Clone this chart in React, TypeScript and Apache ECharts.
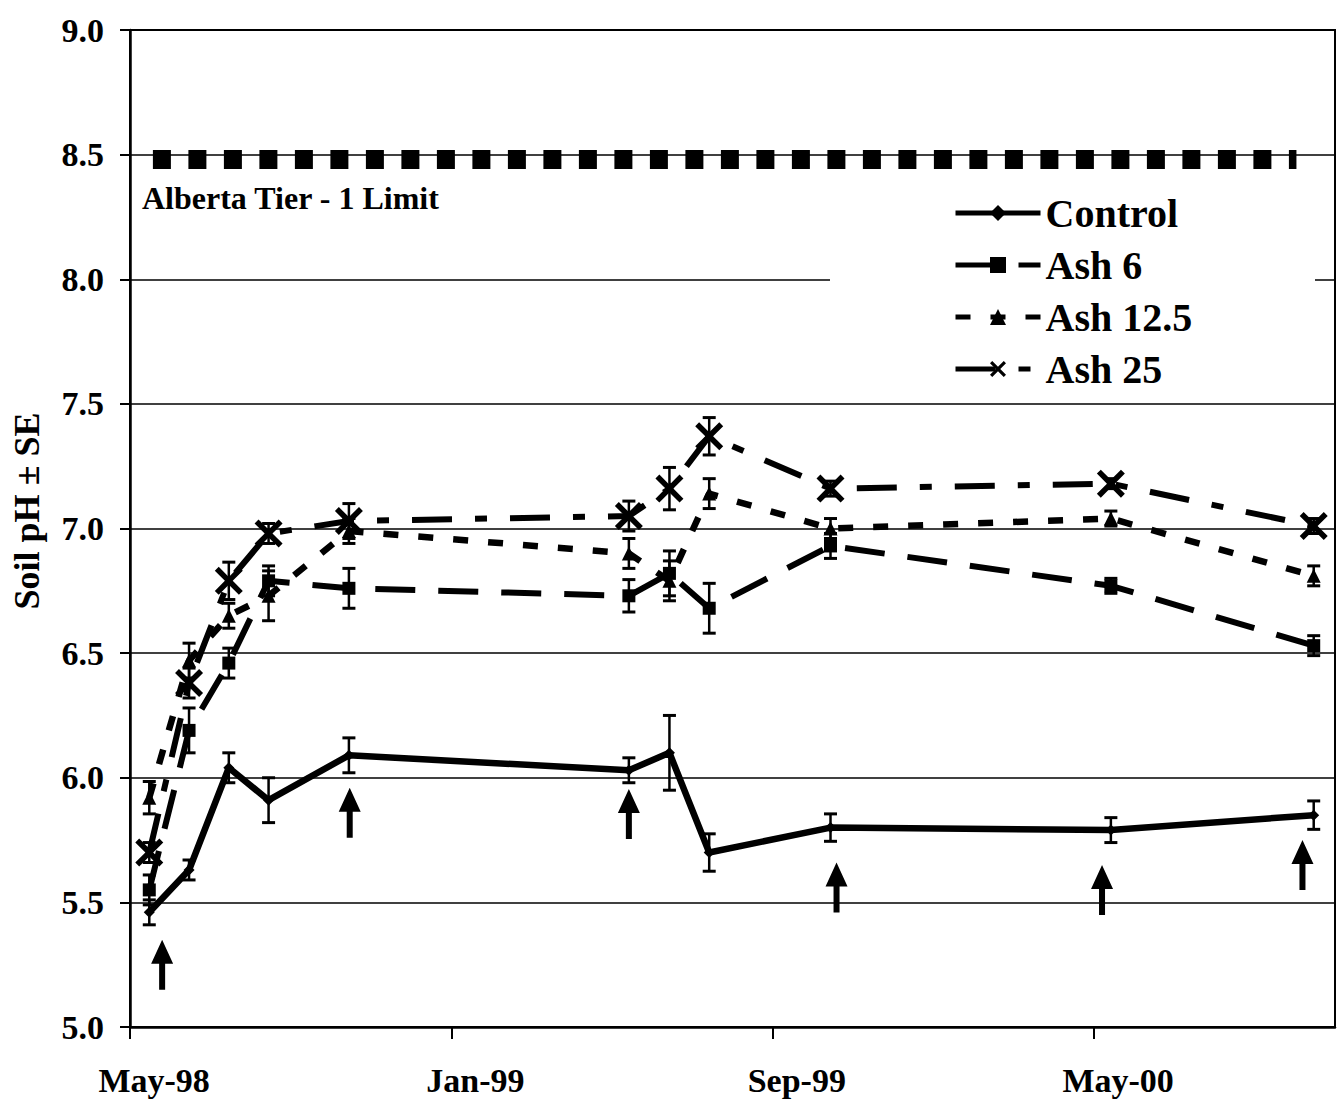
import React, { useEffect, useRef } from 'react';
import * as echarts from 'echarts';

// months elapsed since 1 May 1998
const sampleMonths = [0.48, 1.47, 2.46, 3.45, 5.45, 12.42, 13.43, 14.42, 17.44, 24.42, 29.47];

const controlPH = [5.46, 5.63, 6.04, 5.91, 6.09, 6.03, 6.1, 5.7, 5.8, 5.79, 5.85];
const controlSE = [0.05, 0.04, 0.06, 0.09, 0.07, 0.05, 0.15, 0.075, 0.055, 0.05, 0.057];

const ash6PH = [5.55, 6.19, 6.46, 6.79, 6.76, 6.73, 6.82, 6.68, 6.93, 6.77, 6.53];
const ash6SE = [0.06, 0.09, 0.06, 0.06, 0.08, 0.065, 0.09, 0.1, 0.05, 0.03, 0.04];

const ash125PH = [5.92, 6.47, 6.65, 6.73, 6.99, 6.9, 6.79, 7.14, 7.0, 7.04, 6.81];
const ash125SE = [0.065, 0.07, 0.05, 0.1, 0.05, 0.06, 0.08, 0.06, 0.04, 0.03, 0.04];

const ash25PH = [5.7, 6.38, 6.79, 6.98, 7.03, 7.05, 7.16, 7.37, 7.16, 7.18, 7.01];
const ash25SE = [0.04, 0.06, 0.075, 0.04, 0.07, 0.06, 0.085, 0.075, 0.03, 0.02, 0.03];

// Alberta Tier-1 limit line (start / end month, pH)
const tierMonths = [0.57, 29.04];
const tierPH = 8.48;

// application arrows (month, pH at arrow centre)
const arrowMonths = [0.8, 5.47, 12.42, 17.59, 24.2, 29.19];
const arrowPH = [5.25, 5.86, 5.855, 5.56, 5.55, 5.65];

const tickMonths = [0, 8, 16, 24];
const tickLabels = ['May-98', 'Jan-99', 'Sep-99', 'May-00'];
const labelShift = 0.6;

const seriesNames = ['Control', 'Ash 6', 'Ash 12.5', 'Ash 25'];

const FONT = "'Liberation Serif', 'Times New Roman', serif";

const X_PATH =
  'path://M0,2.8L2.8,0L10,7.2L17.2,0L20,2.8L12.8,10L20,17.2L17.2,20L10,12.8L2.8,20L0,17.2L7.2,10Z';
const ARROW_PATH = 'path://M11,0L22,24L14,24L14,50L8,50L8,24L0,24Z';

function errorSeries(name: string, vals: number[], se: number[]) {
  return {
    type: 'custom',
    name: name + ' SE',
    silent: true,
    z: 3,
    encode: { x: 0, y: [1, 2] },
    data: sampleMonths.map((m, i) => [m, vals[i] - se[i], vals[i] + se[i]]),
    renderItem: (params: any, api: any) => {
      const x = api.value(0);
      const top = api.coord([x, api.value(2)]);
      const bot = api.coord([x, api.value(1)]);
      const h = 6.5;
      return {
        type: 'group',
        children: [
          {
            type: 'line',
            shape: { x1: top[0], y1: top[1], x2: bot[0], y2: bot[1] },
            style: { stroke: '#000', lineWidth: 2.5 },
          },
          {
            type: 'line',
            shape: { x1: top[0] - h, y1: top[1], x2: top[0] + h, y2: top[1] },
            style: { stroke: '#000', lineWidth: 3 },
          },
          {
            type: 'line',
            shape: { x1: bot[0] - h, y1: bot[1], x2: bot[0] + h, y2: bot[1] },
            style: { stroke: '#000', lineWidth: 3 },
          },
        ],
      };
    },
  };
}

function lineSeries(
  name: string,
  vals: number[],
  dash: any,
  symbol: string,
  symbolSize: number,
  width: number
) {
  return {
    type: 'line',
    name,
    data: sampleMonths.map((m, i) => [m, vals[i]]),
    symbol,
    symbolSize,
    showSymbol: true,
    z: 4,
    itemStyle: { color: '#000', borderWidth: 0, opacity: 1 },
    lineStyle: { color: '#000', width, type: dash, cap: 'butt' },
  };
}

export default function App() {
  const ref = useRef<HTMLDivElement>(null);

  useEffect(() => {
    document.body.style.margin = '0';
    if (!ref.current) return;
    const chart = echarts.init(ref.current, undefined, { renderer: 'svg' });

    const option: any = {
      animation: false,
      backgroundColor: '#fff',
      textStyle: { fontFamily: FONT, fontWeight: 'bold', color: '#000' },
      grid: {
        left: 130,
        right: 3,
        top: 30,
        bottom: 74,
        show: true,
        borderColor: '#000',
        borderWidth: 2,
        backgroundColor: 'transparent',
      },
      xAxis: {
        type: 'value',
        min: 0,
        max: 30,
        splitLine: { show: false },
        axisLine: { show: true, onZero: false, lineStyle: { color: '#000', width: 2.5 } },
        axisTick: {
          show: true,
          length: 12,
          customValues: tickMonths,
          lineStyle: { color: '#000', width: 2 },
        },
        axisLabel: {
          customValues: tickMonths.map((m) => m + labelShift),
          formatter: (v: number) => {
            const i = tickMonths.findIndex((m) => Math.abs(m + labelShift - v) < 0.01);
            return i >= 0 ? tickLabels[i] : '';
          },
          margin: 36,
          color: '#000',
          fontFamily: FONT,
          fontWeight: 'bold',
          fontSize: 34,
        },
      },
      yAxis: {
        type: 'value',
        min: 5,
        max: 9,
        interval: 0.5,
        axisLine: { show: true, lineStyle: { color: '#000', width: 2.5 } },
        axisTick: { show: true, length: 10, lineStyle: { color: '#000', width: 2 } },
        axisLabel: {
          formatter: (v: number) => v.toFixed(1),
          margin: 26,
          color: '#000',
          fontFamily: FONT,
          fontWeight: 'bold',
          fontSize: 34,
        },
        splitLine: { show: true, lineStyle: { color: '#000', width: 1.6 } },
      },
      legend: {
        data: seriesNames,
        orient: 'vertical',
        left: 948,
        top: 188,
        itemWidth: 85,
        itemHeight: 20,
        itemGap: 12,
        z: 6,
        lineStyle: { width: 5 },
        textStyle: {
          color: '#000',
          fontFamily: 'Liberation Serif',
          fontWeight: 'bold',
          fontSize: 40,
        },
      },
      graphic: [
        {
          type: 'rect',
          z: 3,
          shape: { x: 830, y: 180, width: 485, height: 214 },
          style: { fill: '#fff' },
          silent: true,
        },
        {
          type: 'text',
          z: 5,
          x: 142,
          y: 198,
          style: {
            text: 'Alberta Tier - 1 Limit',
            font: `bold 32px ${FONT}`,
            fill: '#000',
            textVerticalAlign: 'middle',
          },
        },
        {
          type: 'text',
          z: 5,
          x: 27,
          y: 511,
          rotation: Math.PI / 2,
          style: {
            text: 'Soil pH ± SE',
            font: `bold 36px ${FONT}`,
            fill: '#000',
            textAlign: 'center',
            textVerticalAlign: 'middle',
          },
        },
      ],
      series: [
        {
          type: 'line',
          name: 'Tier 1 limit',
          data: tierMonths.map((m) => [m, tierPH]),
          symbol: 'none',
          silent: true,
          z: 2,
          lineStyle: { color: '#000', width: 19, type: [18, 17.5], cap: 'butt' },
        },
        errorSeries('Control', controlPH, controlSE),
        errorSeries('Ash 6', ash6PH, ash6SE),
        errorSeries('Ash 12.5', ash125PH, ash125SE),
        errorSeries('Ash 25', ash25PH, ash25SE),
        lineSeries('Control', controlPH, 'solid', 'diamond', 11, 6.5),
        lineSeries('Ash 6', ash6PH, [40, 23], 'rect', 13, 6),
        lineSeries('Ash 12.5', ash125PH, [15, 20], 'triangle', 14, 6.5),
        lineSeries('Ash 25', ash25PH, [40, 23, 12, 23], X_PATH, 28, 6),
        {
          type: 'scatter',
          name: 'arrows',
          data: arrowMonths.map((m, i) => [m, arrowPH[i]]),
          symbol: ARROW_PATH,
          symbolSize: [22, 50],
          silent: true,
          z: 4,
          itemStyle: { color: '#000', opacity: 1 },
        },
      ],
    };

    chart.setOption(option);
    return () => chart.dispose();
  }, []);

  return <div ref={ref} style={{ width: 1338, height: 1101 }} />;
}
